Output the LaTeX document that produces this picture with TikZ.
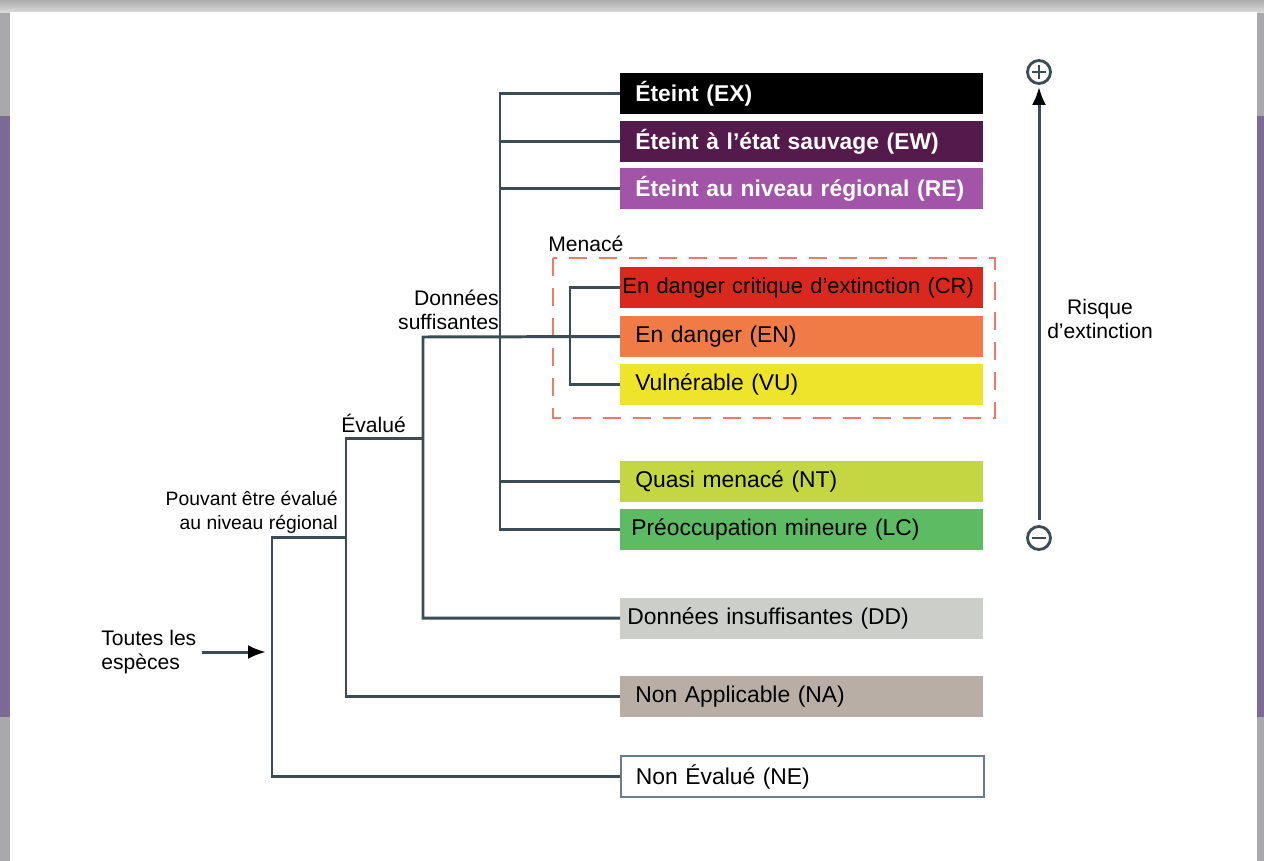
\documentclass[tikz,border=0pt]{standalone}
\usepackage{fontspec}
\setmainfont{Liberation Sans}
\usetikzlibrary{arrows.meta,positioning,calc}
\usepackage{xcolor}
\definecolor{treeline}{HTML}{3B4C55}
\definecolor{framegray}{HTML}{A9A9AB}
\definecolor{bandpurple}{HTML}{7B6A93}
\definecolor{exblack}{HTML}{000000}
\definecolor{ewpurple}{HTML}{531A4B}
\definecolor{repurple}{HTML}{A254A8}
\definecolor{crred}{HTML}{DA281E}
\definecolor{enorange}{HTML}{F07B46}
\definecolor{vuyellow}{HTML}{EEE52A}
\definecolor{ntgreen}{HTML}{C4D642}
\definecolor{lcgreen}{HTML}{5DBB64}
\definecolor{ddgray}{HTML}{CBCEC9}
\definecolor{nataupe}{HTML}{B8AEA6}
\definecolor{neborder}{HTML}{6A7E8A}
\definecolor{menaced}{HTML}{F07A6A}
\newcommand{\boxfont}{\fontsize{13}{15}\selectfont}
\newcommand{\labfont}{\fontsize{12}{13.6}\selectfont}

\begin{document}
\begin{tikzpicture}[x=0.2mm, y=-0.2mm,
  tree/.style={line width=1.7pt, draw=treeline},
  tip/.style={tree, arrows={-Latex[length=3.6mm,width=2.8mm,fill=black,color=black]}},
  catbox/.style={rectangle, anchor=west, minimum height=8.2mm, inner ysep=0pt,
    inner xsep=#1, text width={72.6mm-2*#1}, align=left, font=\boxfont},
  catbox/.default=3mm,
  lab/.style={inner sep=0pt, font=\labfont},
  sign/.style={circle, draw=treeline, line width=1.6pt, minimum size=4.6mm, inner sep=0pt},
  signbar/.style={line width=1.3pt, draw=treeline}]

  \useasboundingbox (0,0) rectangle (1264,861);
  % page frame
  \fill[framegray] (0,0) rectangle (1264,861);
  \fill[bandpurple] (0,116) rectangle (1264,717);
  \shade[top color=gray!65, bottom color=gray!30] (0,0) rectangle (1264,12);
  \fill[white] (10,12) rectangle (1257,861);

  % Categories
  \node[catbox, fill=exblack, text=white, font=\boxfont\bfseries] (ex) at (620,93.5) {Éteint (EX)};
  \node[catbox, fill=ewpurple, text=white, font=\boxfont\bfseries] (ew) at (620,141.5) {Éteint à l’état sauvage (EW)};
  \node[catbox, fill=repurple, text=white, font=\boxfont\bfseries] (re) at (620,188.5) {Éteint au niveau régional (RE)};
  \node[catbox=0.4mm, fill=crred, font=\fontsize{12.5}{15}\selectfont] (cr) at (620,287.5) {En danger critique d’extinction (CR)};
  \node[catbox, fill=enorange] (en) at (620,336.5) {En danger (EN)};
  \node[catbox, fill=vuyellow] (vu) at (620,384.5) {Vulnérable (VU)};
  \node[catbox, fill=ntgreen] (nt) at (620,481.5) {Quasi menacé (NT)};
  \node[catbox=2.2mm, fill=lcgreen] (lc) at (620,529.5) {Préoccupation mineure (LC)};
  \node[catbox=1.4mm, fill=ddgray] (dd) at (620,618) {Données insuffisantes (DD)};
  \node[catbox, fill=nataupe] (na) at (620,696.5) {Non Applicable (NA)};
  \node[catbox, fill=white, draw=neborder, line width=1pt] (ne) at (620,776.5) {Non Évalué (NE)};

  % Menace group
  \draw[menaced, line width=1.6pt, dash pattern=on 3.6mm off 2.4mm] (553,258) rectangle (995,418);
  \node[lab, anchor=west] (menace) at (548,244) {Menacé};

  % Labels of the branches
  \node[lab, anchor=east, align=right] (suff) at (499,310) {Données\\suffisantes};
  \node[lab, anchor=west] (evalue) at (341,423) {Évalué};
  \node[lab, anchor=east, align=right, font=\fontsize{11}{13.6}\selectfont] (pouvant) at (338,512) {Pouvant être évalué\\au niveau régional};
  \node[lab, anchor=west, align=left] (toutes) at (101,652) {Toutes les\\espèces};

  % Junctions
  \coordinate (jsuff) at (500,337);
  \coordinate (jmen) at (570,337);
  \coordinate (jdon) at (423,337);
  \coordinate (jeval) at (346,438);
  \coordinate (jpouv) at (272,537);

  % Tree
  \draw[tree] (ex.west) -| (jsuff) |- (lc.west);
  \foreach \c in {ew,re,nt}
    \draw[tree] (\c.west) -- (\c.west -| jsuff);
  \draw[tree] (cr.west) -| (jmen) |- (vu.west);
  \draw[tree] (en.west) -- (jdon) |- (dd.west);
  \draw[tree] (jeval -| jdon) -- (jeval) |- (na.west);
  \draw[tree] (jpouv -| jeval) -- (jpouv) |- (ne.west);
  \draw[tip, shorten <=1mm, shorten >=1.2mm] (toutes.east) -- (toutes.east -| jpouv);

  % Risk axis
  \node[sign] (plus) at (1039,72) {};
  \node[sign] (minus) at (1039,538) {};
  \draw[signbar] ([xshift=-1.4mm]plus.center) -- ([xshift=1.4mm]plus.center);
  \draw[signbar] ([yshift=-1.4mm]plus.center) -- ([yshift=1.4mm]plus.center);
  \draw[signbar] ([xshift=-1.4mm]minus.center) -- ([xshift=1.4mm]minus.center);
  \draw[tip, shorten <=1mm, shorten >=0.4mm] (minus.north) -- (plus.south);
  \node[lab, align=center] (risque) at (1100,319) {Risque\\d’extinction};
\end{tikzpicture}
\end{document}
